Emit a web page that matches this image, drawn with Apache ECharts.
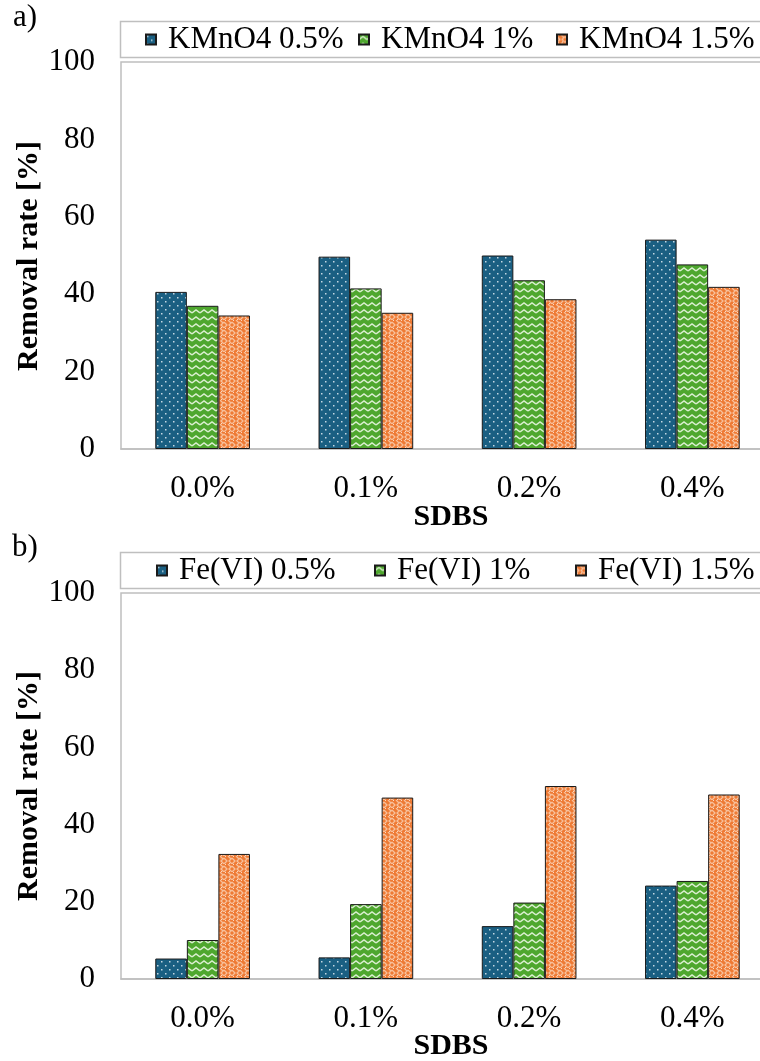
<!DOCTYPE html>
<html>
<head>
<meta charset="utf-8">
<script src="https://cdn.jsdelivr.net/npm/echarts@6/dist/echarts.min.js"></script>
<style>
  html, body { margin: 0; padding: 0; background: #fff; }
  #wrap { width: 760px; height: 1061px; overflow: hidden; position: relative; }
  #chart { width: 776px; height: 1061px; }
</style>
</head>
<body>
<div id="wrap"><div id="chart"></div></div>
<script>
// SDBS dosage categories shared by both panels
const categories = ['0.0%', '0.1%', '0.2%', '0.4%'];

// Panel a) KMnO4 oxidation
const kmnoNames = ['KMnO4 0.5%', 'KMnO4 1%', 'KMnO4 1.5%'];
const kmno05 = [40.6, 49.7, 50.0, 54.1];
const kmno1 = [37.0, 41.5, 43.6, 47.7];
const kmno15 = [34.5, 35.2, 38.7, 41.9];

// Panel b) Fe(VI) oxidation
const feNames = ['Fe(VI) 0.5%', 'Fe(VI) 1%', 'Fe(VI) 1.5%'];
const fe05 = [5.3, 5.6, 13.7, 24.2];
const fe1 = [10.1, 19.4, 19.8, 25.4];
const fe15 = [32.4, 47.0, 50.0, 47.8];

const yTitle = 'Removal rate [%]';
const xTitle = 'SDBS';

const FONT = '"Liberation Serif", "Times New Roman", serif';

// small repeating fill tiles for the bars
function tile(w, h, bg, draw) {
  const c = document.createElement('canvas');
  c.width = w; c.height = h;
  const g = c.getContext('2d');
  g.fillStyle = bg;
  g.fillRect(0, 0, w, h);
  draw(g);
  return c;
}
const dotTile = tile(8, 8, '#1a5f82', g => {
  g.fillStyle = '#c3d7e2';
  g.fillRect(1, 1, 1.5, 1.5);
  g.fillRect(5, 5, 1.5, 1.5);
});
const waveTile = tile(8, 7, '#4ea72e', g => {
  g.strokeStyle = '#d9eecf';
  g.lineWidth = 1.5;
  g.beginPath();
  g.moveTo(0, 5); g.lineTo(4, 2); g.lineTo(8, 5);
  g.stroke();
});
const weaveTile = tile(8, 8, '#ee7a34', g => {
  g.strokeStyle = '#f7c09b';
  g.lineWidth = 1.3;
  g.beginPath();
  g.moveTo(0, 2); g.lineTo(3, 5); g.lineTo(0, 8);
  g.moveTo(4, 0); g.lineTo(7, 3);
  g.moveTo(8, 2); g.lineTo(5, 5); g.lineTo(8, 8);
  g.stroke();
  g.fillStyle = '#fbd9c2';
  g.fillRect(5, 7, 1, 1);
  g.fillRect(1, 0, 1, 1);
});
const fills = [dotTile, waveTile, weaveTile];

function barSeries(name, data, idx, fillIdx) {
  return {
    type: 'bar',
    name: name,
    data: data,
    xAxisIndex: idx,
    yAxisIndex: idx,
    barGap: '0%',
    barCategoryGap: '42%',
    silent: true,
    itemStyle: {
      color: { image: fills[fillIdx], repeat: 'repeat' },
      borderColor: '#1a1a1a',
      borderWidth: 1
    }
  };
}

function legendItem(name, left, top) {
  return {
    data: [name],
    left: left,
    top: top,
    padding: 0,
    itemWidth: 10,
    itemHeight: 10,
    selectedMode: false,
    icon: 'rect',
    textStyle: { fontFamily: FONT, fontSize: 31, color: '#000', padding: [0, 0, 0, 7] }
  };
}

const grids = [
  { left: 121, top: 62, width: 653, height: 387 },
  { left: 121, top: 593, width: 653, height: 386 }
];

function xAxis(gi) {
  return {
    type: 'category',
    gridIndex: gi,
    data: categories,
    axisLine: { show: true, lineStyle: { color: '#bfbfbf', width: 1.5 } },
    axisTick: { show: false },
    axisLabel: { fontFamily: FONT, fontSize: 31, color: '#000', margin: 24 }
  };
}
function yAxis(gi) {
  return {
    type: 'value',
    gridIndex: gi,
    min: 0, max: 100, interval: 20,
    axisLine: { show: false },
    axisTick: { show: false },
    splitLine: { show: false },
    axisLabel: { fontFamily: FONT, fontSize: 31, color: '#000', margin: 26 }
  };
}

function text(str, x, y, opts) {
  return Object.assign({
    type: 'text',
    x: x, y: y,
    silent: true,
    style: Object.assign({
      text: str, fill: '#000',
      font: '31px ' + FONT,
      align: 'center', verticalAlign: 'middle'
    }, opts && opts.style || {})
  }, opts && opts.el || {});
}

const chart = echarts.init(document.getElementById('chart'), null, { renderer: 'canvas' });

chart.setOption({
  animation: false,
  backgroundColor: '#fff',
  grid: grids.map(g => Object.assign({ show: true, borderColor: '#bfbfbf', borderWidth: 1.5 }, g)),
  xAxis: [xAxis(0), xAxis(1)],
  yAxis: [yAxis(0), yAxis(1)],
  legend: [
    legendItem(kmnoNames[0], 145, 24),
    legendItem(kmnoNames[1], 358, 24),
    legendItem(kmnoNames[2], 556, 24),
    legendItem(feNames[0], 156, 555),
    legendItem(feNames[1], 374, 555),
    legendItem(feNames[2], 575, 555)
  ],
  graphic: [
    { type: 'rect', silent: true, z: -1, shape: { x: 120.5, y: 21.5, width: 680, height: 36 },
      style: { fill: '#fff', stroke: '#bfbfbf', lineWidth: 1.5 } },
    { type: 'rect', silent: true, z: -1, shape: { x: 120.5, y: 552.5, width: 680, height: 36 },
      style: { fill: '#fff', stroke: '#bfbfbf', lineWidth: 1.5 } },
    text('a)', 25, 18),
    text('b)', 25, 548),
    text(yTitle, 29, 256, { el: { rotation: Math.PI / 2 }, style: { font: 'bold 30px ' + FONT } }),
    text(yTitle, 29, 786, { el: { rotation: Math.PI / 2 }, style: { font: 'bold 30px ' + FONT } }),
    text(xTitle, 451, 517, { style: { font: 'bold 30px ' + FONT } }),
    text(xTitle, 451, 1046, { style: { font: 'bold 30px ' + FONT } })
  ],
  series: [
    barSeries(kmnoNames[0], kmno05, 0, 0),
    barSeries(kmnoNames[1], kmno1, 0, 1),
    barSeries(kmnoNames[2], kmno15, 0, 2),
    barSeries(feNames[0], fe05, 1, 0),
    barSeries(feNames[1], fe1, 1, 1),
    barSeries(feNames[2], fe15, 1, 2)
  ]
});
</script>
</body>
</html>
